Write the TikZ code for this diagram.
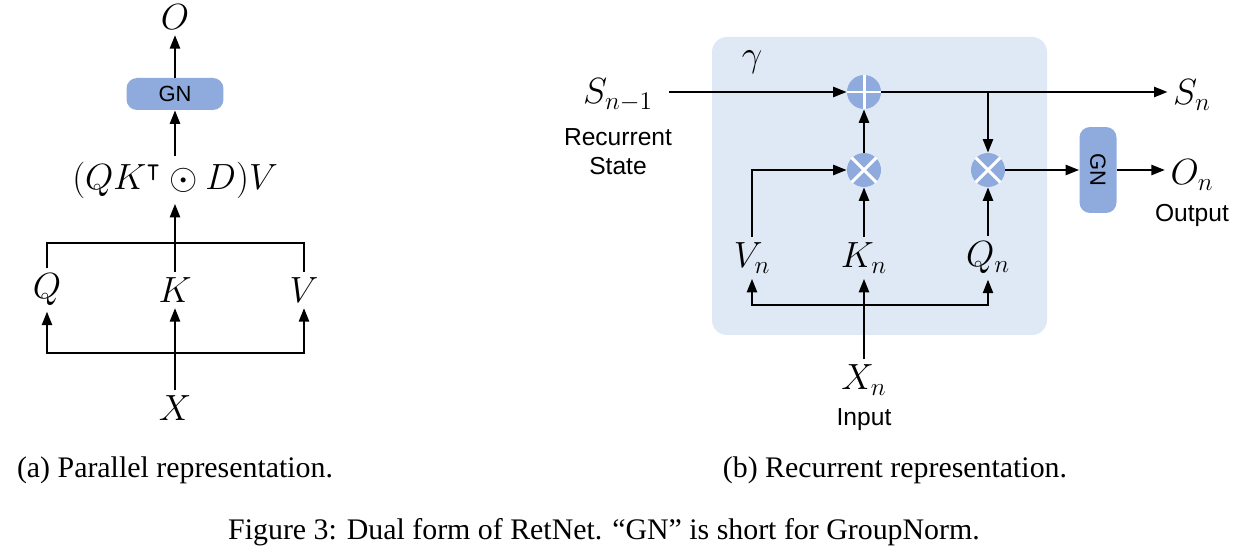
\documentclass[tikz,border=0pt]{standalone}
\usepackage{amssymb}
\usepackage[no-math]{fontspec}
\setmainfont{Liberation Serif}
\setsansfont{Liberation Sans}
\usetikzlibrary{arrows.meta,positioning}
\definecolor{gnblue}{HTML}{8FAADC}
\definecolor{panelblue}{HTML}{DEE9F5}

\tikzset{
  mathlbl/.style={font=\fontsize{20}{24}\selectfont,inner sep=3pt},
  sanslbl/.style={font=\sffamily\fontsize{14}{17}\selectfont,inner sep=0pt,align=center},
  gnbox/.style={fill=gnblue,rounded corners=6pt,inner sep=0pt,font=\sffamily\fontsize{12.5}{14}\selectfont},
  opcirc/.style={circle,fill=gnblue,minimum size=0.68cm,inner sep=0pt},
  opline/.style={white,line width=1.7pt},
  wire/.style={line width=1.35pt},
  flow/.style={wire,-{Triangle[length=0.27cm,width=0.2cm]}},
  caption/.style={font=\fontsize{17}{20}\selectfont,inner sep=0pt}
}

\begin{document}
\begin{tikzpicture}[x=0.02cm,y=-0.02cm]
\useasboundingbox (0,0) rectangle (1235,560);

% (a) parallel form
\node[mathlbl] (o) at (175,17) {$O$};
\node[gnbox,minimum width=1.94cm,minimum height=0.64cm] (gn) at (175,94) {GN};
\node[mathlbl] (qkd) at (175,180) {$(QK^{\intercal}\odot D)V$};
\node[mathlbl] (q) at (47,290) {$Q$};
\node[mathlbl] (k) at (175,290) {$K$};
\node[mathlbl] (v) at (304,290) {$V$};
\node[mathlbl] (x) at (175,408) {$X$};
\coordinate (topbar) at (175,243);
\coordinate (botbar) at (175,353);

\draw[flow] (gn) -- (o);
\draw[flow] (qkd) -- (gn);
\draw[wire] (q.north) |- (topbar) -| (v.north);
\draw[flow] (k.north) -- (qkd.south);
\draw[flow] (botbar) -| (q.south);
\draw[flow] (botbar) -| (v.south);
\draw[flow] (x.north) -- (k.south);

% (b) recurrent form
\fill[panelblue,rounded corners=0.3cm] (712,37) rectangle (1047,335);
\node[mathlbl] (gamma) at (752,62) {$\gamma$};
\node[mathlbl] (snm1) at (618,95) {$S_{n-1}$};
\node[sanslbl,below=0.22cm of snm1] (state) {Recurrent\\State};
\node[opcirc] (plus) at (864,92) {};
\node[opcirc] (times1) at (864,170) {};
\node[opcirc] (times2) at (988,170) {};
\draw[opline] (plus.north) -- (plus.south) (plus.west) -- (plus.east);
\foreach \c in {times1,times2}
  \draw[opline] (\c.north east) -- (\c.south west) (\c.north west) -- (\c.south east);
\node[mathlbl] (sn) at (1192,95) {$S_n$};
\node[mathlbl] (vn) at (752,258) {$V_n$};
\node[mathlbl] (kn) at (864,258) {$K_n$};
\node[mathlbl] (qn) at (988,258) {$Q_n$};
\node[mathlbl] (xn) at (864,380) {$X_n$};
\node[sanslbl,below=0.14cm of xn] (input) {Input};
\node[gnbox,minimum width=0.74cm,minimum height=1.72cm] (gn2) at (1098,170) {\rotatebox{-90}{GN}};
\node[mathlbl] (on) at (1192,175) {$O_n$};
\node[sanslbl,below=0.16cm of on] (output) {Output};
\coordinate (split) at (988,92);
\coordinate (inbar) at (864,305);

\draw[flow] ([xshift=6pt]snm1.east |- plus) -- (plus.west);
\draw[flow] (plus.east) -- (sn.west |- plus);
\draw[flow] (split) -- (times2.north);
\draw[flow] (times1) -- (plus);
\draw[flow] (vn.north) |- (times1.west);
\draw[flow] (kn.north) -- (times1.south);
\draw[flow] (qn.north) -- (times2.south);
\draw[flow] (inbar) -| (vn.south);
\draw[flow] (inbar) -| (qn.south);
\draw[flow] (xn.north) -- (kn.south);
\draw[flow] (times2.east) -- (gn2.west);
\draw[flow] (gn2.east) -- (on.west |- gn2);

% captions
\node[caption] (capa) at (175,470) {(a) Parallel representation.};
\node[caption] (capb) at (895,470) {(b) Recurrent representation.};
\node[caption] (fig) at (604,532) {Figure 3: Dual form of RetNet. ``GN'' is short for GroupNorm.};
\end{tikzpicture}
\end{document}
